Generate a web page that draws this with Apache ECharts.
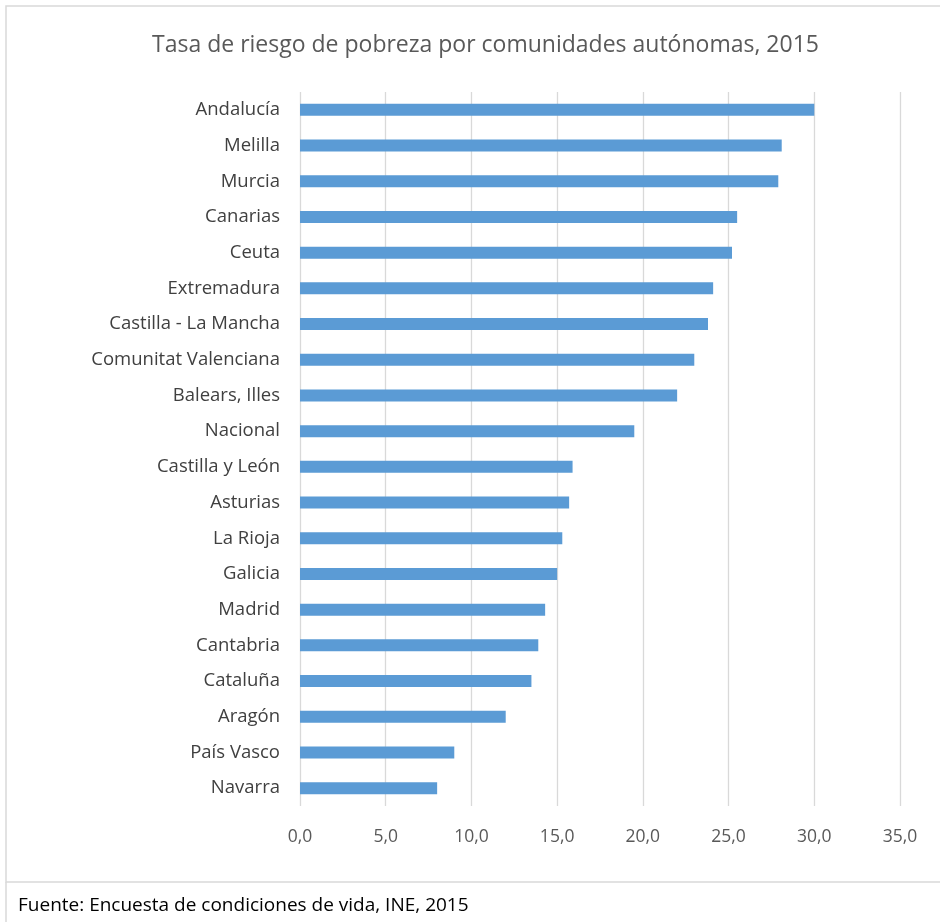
<!DOCTYPE html>
<html>
<head>
<meta charset="utf-8">
<script src="https://cdn.jsdelivr.net/npm/echarts@6/dist/echarts.min.js"></script>
<style>html,body{margin:0;padding:0;background:#fff}#c{width:940px;height:922px}</style>
</head>
<body>
<div id="c"></div>
<script>
const titleText = 'Tasa de riesgo de pobreza por comunidades autónomas, 2015';
const sourceText = 'Fuente: Encuesta de condiciones de vida, INE, 2015';
const categories = ['Andalucía','Melilla','Murcia','Canarias','Ceuta','Extremadura','Castilla - La Mancha','Comunitat Valenciana','Balears, Illes','Nacional','Castilla y León','Asturias','La Rioja','Galicia','Madrid','Cantabria','Cataluña','Aragón','País Vasco','Navarra'];
const values = [30.0,28.1,27.9,25.5,25.2,24.1,23.8,23.0,22.0,19.5,15.9,15.7,15.3,15.0,14.3,13.9,13.5,12.0,9.0,8.0];
const xMin = 0, xMax = 35, xStep = 5;

const font = '"Open Sans", Lato, sans-serif';
const chart = echarts.init(document.getElementById('c'));
chart.setOption({
  animation: false,
  backgroundColor: '#fff',
  title: {
    text: titleText, left: 147, top: 29,
    textStyle: {fontFamily: font, fontSize: 23, fontWeight: 'normal', color: '#595959'}
  },
  grid: {left: 300, right: 40, top: 92, bottom: 116, containLabel: false},
  xAxis: {
    type: 'value', min: xMin, max: xMax, interval: xStep,
    axisLine: {show: false}, axisTick: {show: false},
    splitLine: {show: true, lineStyle: {color: '#d9d9d9', width: 1.3}},
    axisLabel: {
      margin: 22, fontFamily: font, fontSize: 17.5, color: '#595959',
      formatter: v => v.toFixed(1).replace('.', ',')
    }
  },
  yAxis: {
    type: 'category', data: categories, inverse: true,
    axisLine: {show: false}, axisTick: {show: false},
    axisLabel: {margin: 20, fontFamily: font, fontSize: 18.5, color: '#404040'}
  },
  series: [{
    type: 'bar', data: values, barWidth: 12,
    itemStyle: {color: '#5B9BD5'}
  }],
  graphic: [
    {type: 'rect', shape: {x: 6, y: 6, width: 960, height: 876}, style: {fill: 'none', stroke: '#d9d9d9', lineWidth: 1.5}},
    {type: 'line', shape: {x1: 6, y1: 882, x2: 6, y2: 930}, style: {stroke: '#d9d9d9', lineWidth: 1.5}},
    {type: 'text', left: 18, top: 896, style: {text: sourceText, fontFamily: font, fontSize: 19, fill: '#000'}}
  ]
});
</script>
</body>
</html>
